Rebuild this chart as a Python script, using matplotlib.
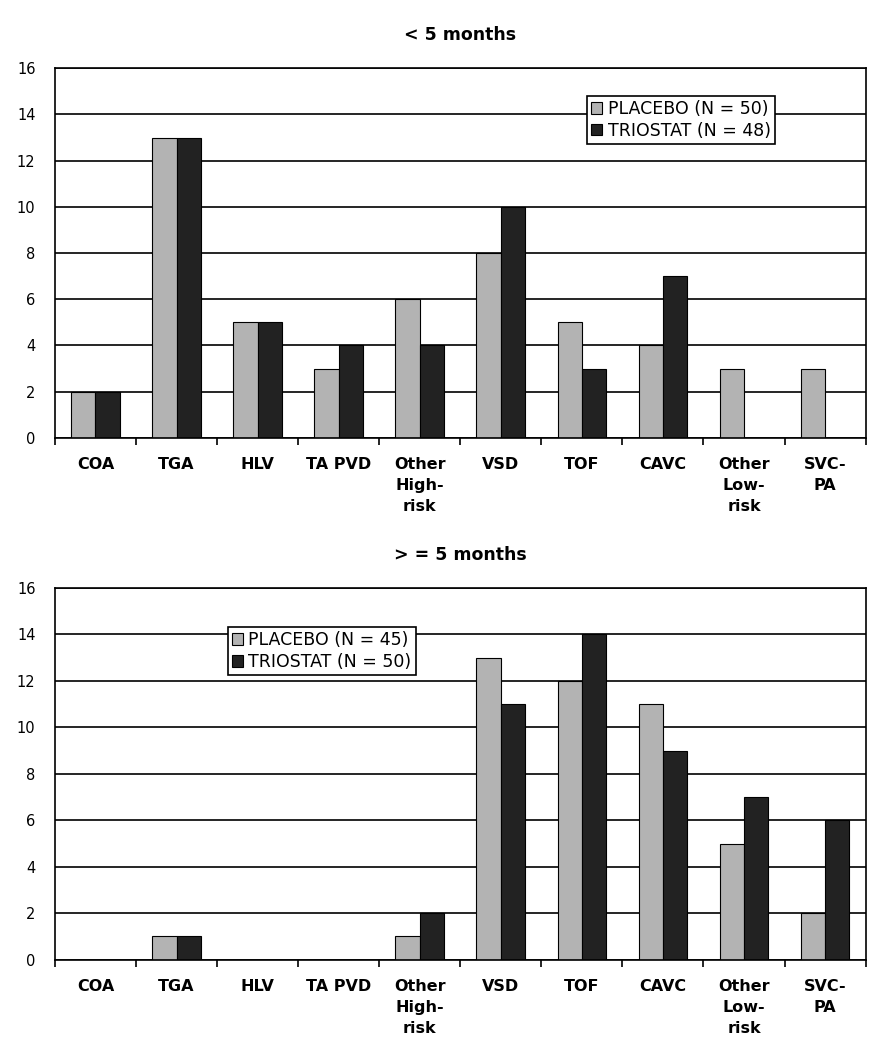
import numpy as np
import matplotlib.pyplot as plt

categories = ['COA', 'TGA', 'HLV', 'TA PVD', 'Other\nHigh-\nrisk', 'VSD', 'TOF',
              'CAVC', 'Other\nLow-\nrisk', 'SVC-\nPA']

# < 5 months
young_placebo = [2, 13, 5, 3, 6, 8, 5, 4, 3, 3]
young_triostat = [2, 13, 5, 4, 4, 10, 3, 7, 0, 0]

# >= 5 months
old_placebo = [0, 1, 0, 0, 1, 13, 12, 11, 5, 2]
old_triostat = [0, 1, 0, 0, 2, 11, 14, 9, 7, 6]

GRAY = '#b3b3b3'
DARK = '#222222'

fig = plt.figure(figsize=(8.86, 10.5), dpi=100)
ax1 = fig.add_axes([0.062, 0.583, 0.915, 0.352])
ax2 = fig.add_axes([0.062, 0.086, 0.915, 0.354])


def draw_panel(ax, placebo, triostat, title, labels, legend_anchor):
    x = np.arange(len(categories))
    w = 0.3
    ax.set_axisbelow(True)
    ax.yaxis.grid(True, color='black', linewidth=1.2)
    ax.bar(x - w / 2, placebo, w, color=GRAY, edgecolor='black', linewidth=0.8,
           label=labels[0])
    ax.bar(x + w / 2, triostat, w, color=DARK, edgecolor='black', linewidth=0.8,
           label=labels[1])
    ax.set_xlim(-0.5, len(categories) - 0.5)
    ax.set_ylim(0, 16)
    ax.set_yticks(range(0, 17, 2))
    ax.set_xticks(np.arange(len(categories) + 1) - 0.5, minor=True)
    ax.set_xticks(x)
    ax.set_xticklabels(categories, fontweight='bold', fontsize=11.5,
                       linespacing=1.5, va='top')
    ax.tick_params(axis='x', which='major', length=0, pad=14)
    ax.tick_params(axis='x', which='minor', length=5, width=1.2, direction='out')
    ax.tick_params(axis='y', length=0, labelsize=10.5, pad=14)
    for s in ax.spines.values():
        s.set_linewidth(1.2)
    ax.set_title(title, fontweight='bold', fontsize=12.5, pad=20)
    leg = ax.legend(loc='upper left', bbox_to_anchor=legend_anchor, fancybox=False,
                    edgecolor='black', framealpha=1, fontsize=12.5,
                    handlelength=0.65, handleheight=0.65, handletextpad=0.3,
                    borderpad=0.25, labelspacing=0.2, borderaxespad=0)
    leg.get_frame().set_linewidth(1.2)


draw_panel(ax1, young_placebo, young_triostat, '< 5 months',
           ['PLACEBO (N = 50)', 'TRIOSTAT (N = 48)'], (0.656, 0.925))
draw_panel(ax2, old_placebo, old_triostat, '> = 5 months',
           ['PLACEBO (N = 45)', 'TRIOSTAT (N = 50)'], (0.213, 0.895))

fig.savefig('out.png', dpi=100)
